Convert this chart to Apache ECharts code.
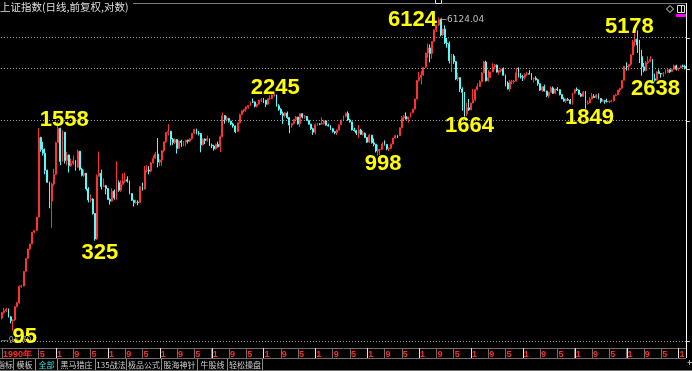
<!DOCTYPE html>
<html><head><meta charset="utf-8">
<script src="https://cdn.jsdelivr.net/npm/echarts@6/dist/echarts.min.js"></script>
<style>html,body{margin:0;padding:0;background:#000;overflow:hidden}#c{width:692px;height:371px}</style>
</head><body><div id="c"></div>
<script>
// ---- DATA (monthly OHLC, Dec 1990 .. Apr 2017) ----
const startYear = 1990, startMonth = 12;
const titleText = '上证指数(日线,前复权,对数)';
const opens = [
118,
127,130,133,120,114,115,137,144,179,180,218,259,
293,313,365,373,445,1265,1081,1030,823,703,548,686,
780,1183,1428,925,1358,935,1007,874,902,931,857,1058,
834,770,792,644,557,564,467,334,760,792,664,671,
648,561,549,626,573,700,633,685,716,726,714,607,
555,538,541,538,665,643,823,826,814,907,964,1020,
917,943,1066,1198,1351,1376,1240,1186,1235,1097,1209,1186,
1194,1223,1207,1245,1341,1411,1339,1336,1150,1242,1217,1247,
1146,1134,1090,1158,1120,1280,1689,1601,1627,1568,1511,1474,
1367,1535,1714,1800,1836,1894,1928,2023,2022,1910,1961,2070,
2073,2065,1959,2112,2119,2214,2218,1920,1834,1735,1689,1747,
1646,1491,1524,1603,1657,1515,1732,1657,1672,1581,1509,1421,
1357,1500,1512,1510,1521,1576,1487,1476,1421,1367,1348,1397,
1497,1590,1675,1741,1595,1555,1399,1386,1342,1396,1320,1340,
1266,1191,1306,1181,1159,1060,1080,1083,1162,1155,1092,1099,
1161,1258,1299,1298,1440,1641,1672,1612,1658,1752,1837,2099,
2675,2786,2881,3183,3841,4109,3820,4471,5218,5552,5954,4871,
5261,4383,4348,3472,3693,3433,2736,2775,2397,2293,1728,1871,
1820,1990,2082,2373,2477,2632,2959,3412,2667,2779,2995,3195,
3277,2989,3051,3109,2870,2592,2398,2637,2638,2655,2978,2820,
2808,2790,2905,2928,2911,2743,2762,2701,2567,2359,2468,2333,
2199,2292,2428,2262,2396,2372,2225,2103,2047,2086,2068,1980,
2269,2385,2365,2236,2177,2300,1979,1993,2098,2174,2141,2220,
2115,2033,2056,2033,2026,2039,2048,2201,2217,2363,2420,2683,
3234,3210,3310,3748,4441,4611,4277,3663,3205,3052,3382,3445,
3539,2737,2688,3003,2938,2916,2929,2979,3085,3004,3100,3250,
3103,3159,3241,3222
];
const highs = [
128,
135,135,134,121,116,138,146,181,183,219,260,293,
313,366,375,446,1429,1280,1195,1095,830,710,700,840,
1200,1559,1440,1392,1360,1050,1010,960,1000,940,1080,1060,
850,830,795,660,600,570,470,780,1053,830,740,680,
650,570,650,640,927,720,720,790,800,760,720,610,
560,560,555,670,700,870,880,870,920,1000,1050,1258,
950,1070,1200,1360,1510,1380,1260,1250,1240,1220,1230,1210,
1230,1230,1250,1345,1420,1422,1380,1340,1250,1250,1300,1250,
1170,1150,1170,1200,1300,1756,1700,1680,1640,1580,1540,1480,
1540,1730,1810,1840,1900,1940,2030,2115,2030,1970,2080,2125,
2130,2080,2120,2200,2230,2245,2230,1960,1860,1780,1770,1780,
1650,1530,1620,1680,1660,1748,1740,1700,1680,1600,1520,1440,
1520,1530,1530,1650,1600,1590,1520,1490,1430,1380,1410,1500,
1600,1690,1760,1783,1620,1560,1440,1400,1490,1420,1380,1350,
1270,1330,1310,1250,1160,1150,1090,1190,1220,1160,1110,1170,
1260,1310,1310,1450,1680,1700,1760,1660,1760,1850,2110,2700,
2995,3050,3200,3850,4335,4300,4480,5220,5560,6124,5960,5300,
5523,4690,4470,3790,3790,3450,2950,2800,2450,2300,2000,2100,
2000,2400,2400,2580,2690,2990,3460,3478,3070,3000,3360,3330,
3306,3080,3140,3181,2900,2650,2700,2700,2700,3160,3186,2950,
2880,2940,3000,3067,2950,2780,2830,2730,2580,2480,2536,2340,
2300,2480,2478,2400,2453,2390,2230,2150,2120,2130,2100,2276,
2400,2444,2370,2270,2330,2330,2060,2150,2270,2240,2240,2260,
2120,2100,2060,2110,2060,2080,2210,2250,2370,2420,2700,3240,
3400,3330,3800,4560,4960,5178,4570,4000,3370,3460,3680,3685,
3540,2930,3020,3100,2950,2990,3100,3140,3100,3140,3300,3300,
3175,3260,3300,3290
];
const lows = [
116,
125,128,119,110,100,114,136,143,176,179,217,257,
290,312,360,370,443,1050,1000,781,700,500,387,670,
770,1180,880,920,900,880,800,860,880,820,850,820,
760,755,630,540,540,460,326,330,760,640,660,600,
560,524,545,560,560,620,620,680,700,700,600,550,
512,530,520,535,630,640,800,780,800,900,960,855,
870,870,1040,1180,1300,1140,1150,1160,1025,1090,1120,1130,
1130,1170,1190,1230,1330,1320,1300,1043,1140,1160,1200,1130,
1100,1065,1080,1110,1047,1270,1520,1560,1540,1490,1440,1341,
1360,1520,1700,1760,1780,1850,1920,1990,1880,1875,1950,2020,
1990,1893,1950,2080,2100,2170,1900,1800,1700,1514,1650,1620,
1339,1440,1500,1590,1500,1455,1630,1620,1570,1500,1400,1311,
1320,1480,1490,1500,1500,1480,1460,1400,1350,1320,1307,1390,
1490,1580,1650,1580,1540,1390,1370,1310,1260,1310,1300,1260,
1180,1180,1170,1130,1040,998,1005,1080,1140,1070,1060,1090,
1160,1250,1260,1290,1430,1580,1610,1540,1650,1740,1830,2090,
2640,2540,2850,3170,3600,3400,3560,4450,5070,5460,4780,4800,
4330,4120,3350,2990,3330,2690,2650,2300,1800,1665,1680,1800,
1814,1990,2037,2350,2460,2630,2950,2640,2640,2770,3000,3100,
2980,2890,2980,2860,2481,2380,2319,2550,2570,2660,2780,2750,
2661,2710,2850,2900,2700,2610,2680,2500,2340,2307,2320,2150,
2132,2290,2240,2240,2330,2200,2100,2030,1999,2050,1959,1949,
2250,2330,2220,2160,2160,1849,1950,1990,2090,2130,2110,2090,
1985,2030,1974,2010,1991,2010,2040,2190,2210,2300,2400,2680,
3050,3050,3250,3740,4190,3850,3370,2850,2980,3020,3320,3400,
2638,2640,2680,2930,2780,2810,2930,2970,2960,3000,3090,3050,
3044,3150,3180,3100
];
const closes = [
127,
130,133,120,114,115,137,144,179,180,218,259,293,
313,365,373,445,1265,1081,1030,823,703,548,686,780,
1183,1428,925,1358,935,1007,874,902,931,857,1058,834,
770,792,644,557,564,467,334,760,792,664,671,648,
561,549,626,573,700,633,685,716,726,714,607,555,
538,541,538,665,643,823,826,814,907,964,1020,917,
943,1066,1198,1351,1376,1240,1186,1235,1097,1209,1186,1194,
1223,1207,1245,1341,1411,1339,1336,1150,1242,1217,1247,1146,
1134,1090,1158,1120,1280,1689,1601,1627,1568,1511,1474,1367,
1535,1714,1800,1836,1894,1928,2023,2022,1910,1961,2070,2073,
2065,1959,2112,2119,2214,2218,1920,1834,1735,1689,1747,1646,
1491,1524,1603,1657,1515,1732,1657,1672,1581,1509,1421,1357,
1500,1512,1510,1521,1576,1487,1476,1421,1367,1348,1397,1497,
1590,1675,1741,1595,1555,1399,1386,1342,1396,1320,1340,1266,
1191,1306,1181,1159,1060,1080,1083,1162,1155,1092,1099,1161,
1258,1299,1298,1440,1641,1672,1612,1658,1752,1837,2099,2675,
2786,2881,3183,3841,4109,3820,4471,5218,5552,5954,4871,5261,
4383,4348,3472,3693,3433,2736,2775,2397,2293,1728,1871,1820,
1990,2082,2373,2477,2632,2959,3412,2667,2779,2995,3195,3277,
2989,3051,3109,2870,2592,2398,2637,2638,2655,2978,2820,2808,
2790,2905,2928,2911,2743,2762,2701,2567,2359,2468,2333,2199,
2292,2428,2262,2396,2372,2225,2103,2047,2086,2068,1980,2269,
2385,2365,2236,2177,2300,1979,1993,2098,2174,2141,2220,2115,
2033,2056,2033,2026,2039,2048,2201,2217,2363,2420,2683,3234,
3210,3310,3748,4441,4611,4277,3663,3205,3052,3382,3445,3539,
2737,2688,3003,2938,2916,2929,2979,3085,3004,3100,3250,3103,
3159,3241,3222,3154
];
// horizontal dotted reference levels of the chart
const gridLevels = [4707, 3131, 1579, 87.3];
// extreme-point annotations
const noteTexts  = ['6124','5178','2245','1558','325','95','998','1664','1849','2638'];
const noteMonths = ['2007-10','2015-06','2001-06','1993-02','1994-07','1991-05','2005-06','2008-10','2013-06','2016-01'];
const noteKinds  = ['high','high','high','high','low','low','low','low','low','low'];
const maxText = '6124.04', minText = '95.79';
// bottom tab bar
const tabNames = ['指标','模板','全部','黑马猎庄','135战法','极品公式','股海神针','牛股线','轻松操盘'];

// ---- build ----
const months = [];
{ let y = startYear, m = startMonth;
  for (let i = 0; i < closes.length; i++) {
    months.push(y + '-' + (m < 10 ? '0' + m : m));
    m++; if (m > 12) { m = 1; y++; }
  } }
const candles = closes.map((c, i) => [opens[i], c, lows[i], highs[i]]);
const isLabelIdx = (i) => i === 0 || (i >= 17 && (i - 17) % 8 === 0);

// layout / style (not data)
const noteOffsets = [[-26,2],[-8,-3],[1,-6],[6,-2],[5,12],[12,6],[5,8],[5,9],[4,9],[3,7]];
const noteStyle = {color:'#ffff00', fontSize:22, fontWeight:'bold', fontFamily:'Liberation Sans, Arial, sans-serif'};

const notePoints = noteTexts.map((t, k) => {
  const idx = months.indexOf(noteMonths[k]);
  const price = noteKinds[k] === 'high' ? highs[idx] : lows[idx];
  return {
    name: t, coord: [idx, price], symbol: 'rect', symbolSize: 1,
    itemStyle: {color: 'rgba(0,0,0,0)'},
    label: Object.assign({show: true, formatter: t, position: 'inside', offset: noteOffsets[k],
      align: 'center', verticalAlign: 'middle'}, noteStyle)
  };
});
{ // small grey max/min price tags
  const iMax = months.indexOf(noteMonths[0]);
  notePoints.unshift({name:'max', coord:[iMax, highs[iMax]], symbol:'rect', symbolSize:1,
    itemStyle:{color:'rgba(0,0,0,0)'},
    label:{show:true, formatter:'\u2190' + maxText, position:'inside', align:'left', verticalAlign:'middle',
      offset:[1,2], color:'#bdbdbd', fontSize:9, fontFamily:'DejaVu Sans'}});
  const iMin = months.indexOf(noteMonths[5]);
  notePoints.unshift({name:'min', coord:[iMin, lows[iMin]], symbol:'rect', symbolSize:1,
    itemStyle:{color:'rgba(0,0,0,0)'},
    label:{show:true, formatter:'\u2014' + minText, position:'inside', align:'left', verticalAlign:'middle',
      offset:[-12,10], color:'#9a9a9a', fontSize:8, fontFamily:'DejaVu Sans'}});
}

const chart = echarts.init(document.getElementById('c'), null, {renderer: 'canvas'});
const option = {
  backgroundColor: '#000000',
  animation: false,
  grid: {left: 0, right: 6, top: 10, bottom: 23, containLabel: false},
  xAxis: {
    type: 'category', data: months, boundaryGap: true,
    axisLine: {show: true, lineStyle: {color: '#6e6e6e', width: 1}},
    axisTick: {show: true, interval: isLabelIdx, alignWithLabel: true, length: 10, inside: false,
      lineStyle: {color: '#6e6e6e'}},
    axisLabel: {show: true, interval: isLabelIdx, align: 'left', margin: 2, color: '#ff2a2a',
      fontSize: 9, fontWeight: 'bold', fontFamily: 'Liberation Sans, Arial, sans-serif', padding: [0,0,0,1],
      formatter: (v, i) => i === 0 ? v.slice(0, 4) + '年' : String(parseInt(v.slice(5), 10))},
    splitLine: {show: false}
  },
  yAxis: {
    type: 'log', logBase: 10, min: 79.7, max: 6763, scale: true,
    axisLine: {show: false}, axisTick: {show: false}, axisLabel: {show: false}, splitLine: {show: false}
  },
  series: [{
    type: 'candlestick', data: candles, barWidth: '65%',
    itemStyle: {color: '#000000', color0: '#54fcfc', borderColor: '#ff3232', borderColor0: '#54fcfc', borderWidth: 1},
    markLine: {silent: true, symbol: 'none', animation: false, label: {show: false},
      lineStyle: {color: '#a8a8a8', type: [1, 2], width: 1},
      data: gridLevels.map(v => ({yAxis: v}))},
    markPoint: {silent: true, animation: false, data: notePoints}
  }]
};
chart.setOption(option);

// decorative frame pieces
const g = [];
g.push({type:'line', shape:{x1:0, y1:3.5, x2:686, y2:3.5}, style:{stroke:'#7c7c7c', lineWidth:1}, z:50});
g.push({type:'rect', shape:{x:0, y:0, width:133, height:13}, style:{fill:'#000'}, z:51});
g.push({type:'text', x:0, y:7.5, style:{text:titleText, fill:'#dedede', font:'10.5px "Noto Sans CJK SC"', textVerticalAlign:'middle'}, z:52});
g.push({type:'rect', shape:{x:435.5, y:-1, width:6, height:4.5}, style:{fill:'#000', stroke:'#e0e0e0', lineWidth:1}, z:53});
g.push({type:'line', shape:{x1:686.5, y1:3, x2:686.5, y2:358}, style:{stroke:'#ffffff', lineWidth:1}, z:50});
g.push({type:'line', shape:{x1:0, y1:358.5, x2:686, y2:358.5}, style:{stroke:'#6e6e6e', lineWidth:1}, z:50});
g.push({type:'line', shape:{x1:0, y1:370.5, x2:692, y2:370.5}, style:{stroke:'#6e6e6e', lineWidth:1}, z:50});
// right-edge ticks at the reference levels
gridLevels.forEach(v => {
  const y = Math.round(chart.convertToPixel({yAxisIndex: 0}, v)) + 0.5;
  g.push({type:'line', shape:{x1:687, y1:y, x2:690, y2:y}, style:{stroke:'#d0d0d0', lineWidth:1}, z:50});
});
// white ticks at January labels
months.forEach((m, i) => {
  if (isLabelIdx(i) && i > 0 && m.slice(5) === '01') {
    const x = Math.round(chart.convertToPixel({xAxisIndex: 0}, i)) + 0.5;
    g.push({type:'line', shape:{x1:x, y1:348, x2:x, y2:358}, style:{stroke:'#e6e6e6', lineWidth:1}, z:55});
  }
});
// top-right icons
g.push({type:'polygon', shape:{points:[[670,5.5],[673.5,9],[670,12.5],[666.5,9]]}, style:{fill:'none', stroke:'#e0e0e0', lineWidth:1}, z:50});
g.push({type:'rect', shape:{x:677.5, y:5.5, width:7, height:7}, style:{fill:'none', stroke:'#e0e0e0', lineWidth:1}, z:50});
g.push({type:'line', shape:{x1:681.5, y1:5.5, x2:681.5, y2:12.5}, style:{stroke:'#e0e0e0', lineWidth:1}, z:50});
g.push({type:'rect', shape:{x:676, y:14, width:10, height:3}, style:{fill:'#ff00ff'}, z:50});
g.push({type:'line', shape:{x1:687.5, y1:362.5, x2:692, y2:362.5}, style:{stroke:'#aaaaaa', lineWidth:1}, z:50});
g.push({type:'line', shape:{x1:689.5, y1:360, x2:689.5, y2:365}, style:{stroke:'#aaaaaa', lineWidth:1}, z:50});
// tab bar
const tabEdges = [-4, 13, 35, 57, 95, 126, 161, 197, 227, 262];
tabNames.forEach((t, k) => {
  const x0 = tabEdges[k], x1 = tabEdges[k + 1];
  g.push({type:'line', shape:{x1:x1 + 0.5, y1:359, x2:x1 + 0.5, y2:370}, style:{stroke:'#8a8a8a', lineWidth:1}, z:50});
  g.push({type:'text', x:(x0 + x1) / 2 + 0.5, y:364.5, style:{text:t, fill: t === '全部' ? '#2ee0e0' : '#cfcfcf',
    font:'8px "Noto Sans CJK SC"', textAlign:'center', textVerticalAlign:'middle'}, z:52});
});
chart.setOption({graphic: {elements: g}});
</script></body></html>
